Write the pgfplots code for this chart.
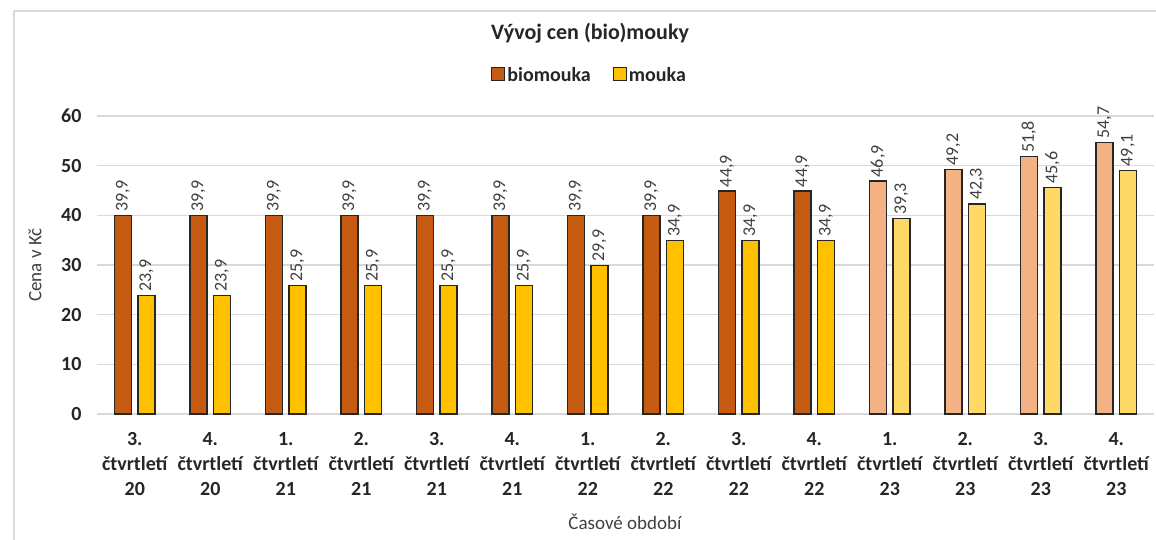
\documentclass[border=0pt]{standalone}
\usepackage{fontspec}
\setmainfont{Carlito}
\usepackage{pgfplots}
\pgfplotsset{compat=1.18}
\definecolor{bioc}{HTML}{C55A11}
\definecolor{mouc}{HTML}{FFC000}
\definecolor{biolt}{HTML}{F4B183}
\definecolor{moult}{HTML}{FFD966}
\definecolor{gridc}{HTML}{D9D9D9}
\definecolor{txt}{HTML}{262626}
\definecolor{lbl}{HTML}{404040}

\begin{document}
\begin{tikzpicture}[x=1pt,y=1pt]
\path[use as bounding box] (0,0) rectangle (1156,540);
\draw[gridc, line width=2pt] (14,-10) rectangle (1180,529);

\begin{axis}[
  at={(97pt,126pt)}, anchor=south west,
  scale only axis, width=1057pt, height=298pt,
  xmin=-0.5, xmax=13.5, ymin=0, ymax=60,
  ytick={0,10,...,60},
  xtick={0,...,13},
  xticklabels={{3.\\čtvrtletí\\20},{4.\\čtvrtletí\\20},{1.\\čtvrtletí\\21},{2.\\čtvrtletí\\21},
    {3.\\čtvrtletí\\21},{4.\\čtvrtletí\\21},{1.\\čtvrtletí\\22},{2.\\čtvrtletí\\22},
    {3.\\čtvrtletí\\22},{4.\\čtvrtletí\\22},{1.\\čtvrtletí\\23},{2.\\čtvrtletí\\23},
    {3.\\čtvrtletí\\23},{4.\\čtvrtletí\\23}},
  xticklabel style={align=center, font=\bfseries\fontsize{20}{25}\selectfont, text=txt, yshift=-15pt},
  yticklabel style={font=\bfseries\fontsize{20}{24}\selectfont, text=txt, xshift=-12pt},
  /pgf/number format/assume math mode=true,
  axis line style={draw=none},
  major tick length=0pt,
  ymajorgrids, grid style={gridc, line width=1.2pt},
  ybar, bar width=17pt,
  every axis plot/.append style={draw=black!85, line width=1.2pt},
  nodes near coords,
  nodes near coords style={rotate=90, anchor=west, font=\fontsize{18}{20}\selectfont, text=lbl,
    /pgf/number format/.cd, fixed, fixed zerofill, precision=1, use comma},
  legend style={at={(0.466,1.138)}, anchor=center, draw=none, legend columns=2,
    font=\bfseries\fontsize{20}{24}\selectfont, text=txt,
    /tikz/every even column/.append style={column sep=20pt}},
  legend image code/.code={\draw[#1, line width=1.2pt] (0pt,-6pt) rectangle (13pt,7pt);},
  clip=false,
]
\addplot[fill=bioc, bar shift=-11.75pt] coordinates {
  (0,39.9) (1,39.9) (2,39.9) (3,39.9) (4,39.9) (5,39.9) (6,39.9) (7,39.9) (8,44.9) (9,44.9)};
\addlegendentry{biomouka}
\addplot[fill=mouc, bar shift=11.75pt] coordinates {
  (0,23.9) (1,23.9) (2,25.9) (3,25.9) (4,25.9) (5,25.9) (6,29.9) (7,34.9) (8,34.9) (9,34.9)};
\addlegendentry{mouka}
\addplot[fill=biolt, bar shift=-11.75pt, forget plot] coordinates {
  (10,46.9) (11,49.2) (12,51.8) (13,54.7)};
\addplot[fill=moult, bar shift=11.75pt, forget plot] coordinates {
  (10,39.3) (11,42.3) (12,45.6) (13,49.1)};
\end{axis}

\node[font=\bfseries\fontsize{22}{26}\selectfont, text=txt] at (590,507) {Vývoj cen (bio)mouky};
\node[rotate=90, font=\fontsize{19}{22}\selectfont, text=lbl] at (35,275) {Cena v Kč};
\node[font=\fontsize{19}{22}\selectfont, text=lbl] at (625,18) {Časové období};
\end{tikzpicture}
\end{document}
